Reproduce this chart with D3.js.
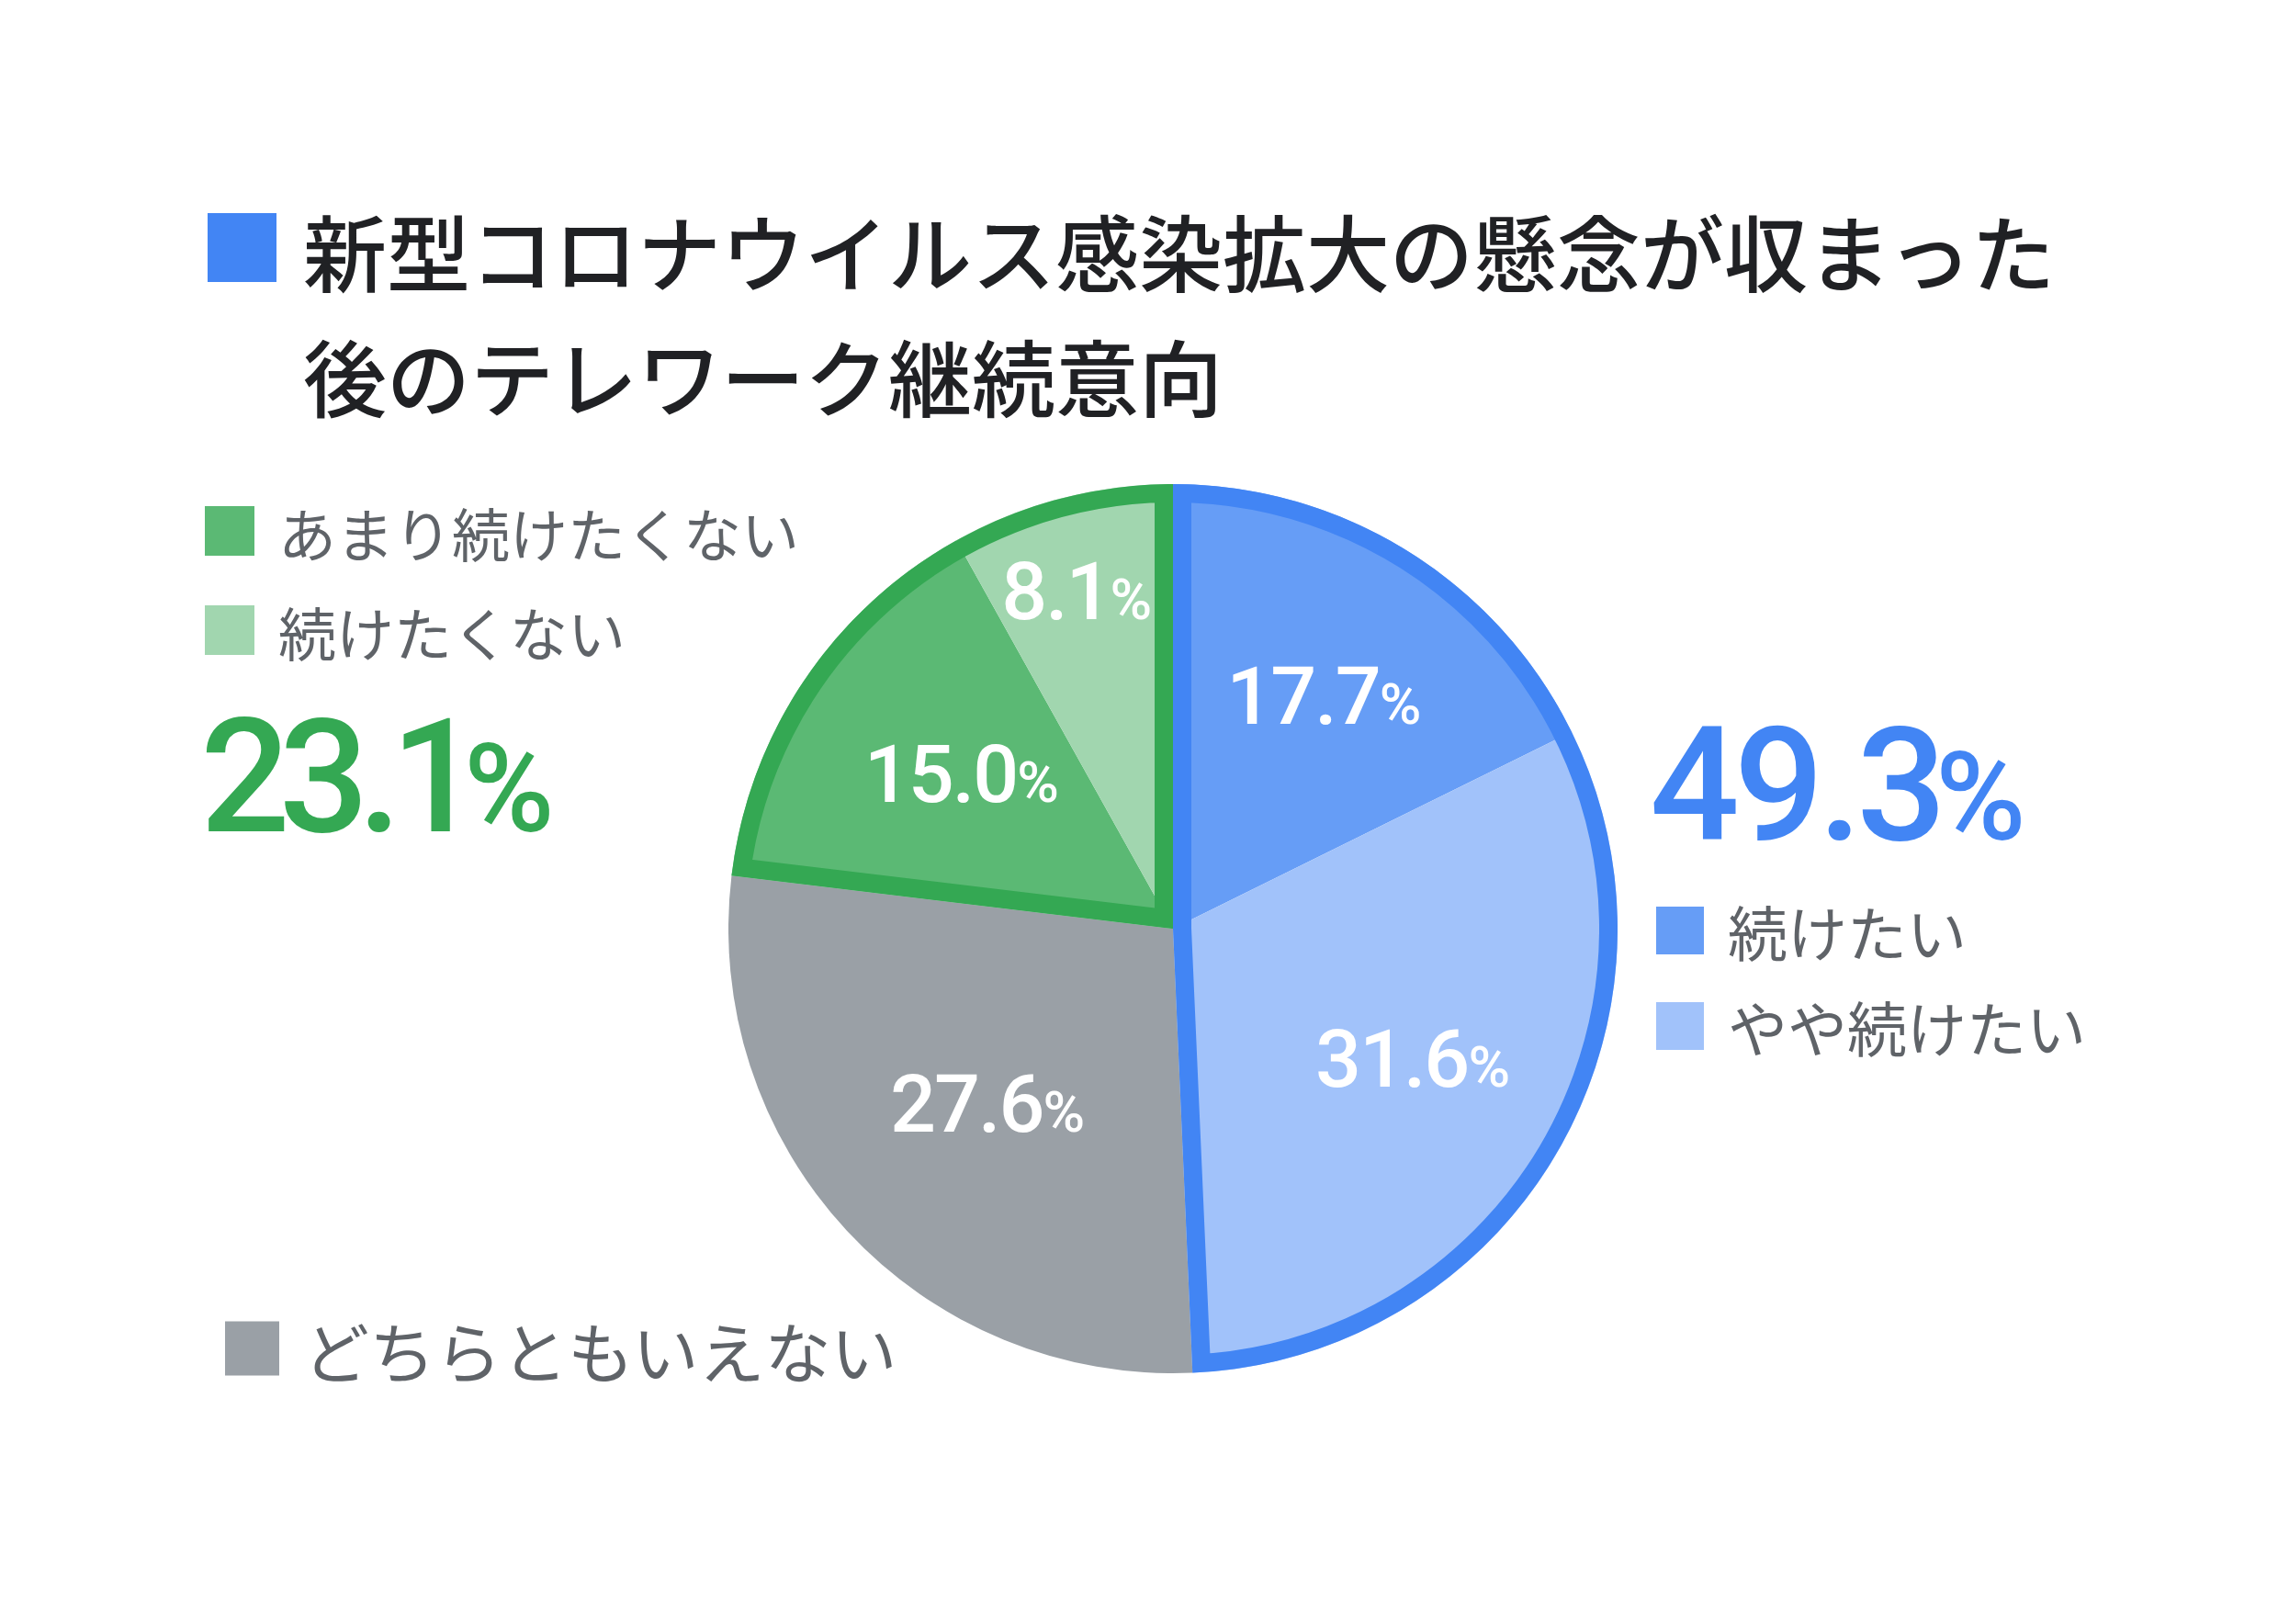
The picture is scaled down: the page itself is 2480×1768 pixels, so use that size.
<!DOCTYPE html>
<html>
<head>
<meta charset="utf-8">
<script src="https://cdn.jsdelivr.net/npm/d3@7"></script>
<style>
  html, body { margin: 0; padding: 0; background: #fff; }
</style>
</head>
<body>
<div id="chart"></div>
<script>
// data
var categories = ["続けたい", "やや続けたい", "どちらともいえない", "あまり続けたくない", "続けたくない"];
var values = [17.7, 31.6, 27.6, 15.0, 8.1];
var groupOf = [0, 0, 1, 2, 2];
var titleLines = ["新型コロナウイルス感染拡大の懸念が収まった", "後のテレワーク継続意向"];

var sliceColors = ["#669DF6", "#A1C2FA", "#9AA0A6", "#5BB974", "#A1D6AF"];
var groupBorder = ["#4285F4", null, "#34A853"];

var width = 2480, height = 1768;
var cx = 1277, cy = 1011, R = 484;
var jp = "'Noto Sans CJK JP', 'Noto Sans', sans-serif";
var num = "Roboto, 'Noto Sans', sans-serif";
var textGray = "#5F6368";

var svg = d3.select("#chart")
    .append("svg")
    .attr("width", width)
    .attr("height", height);

var data = categories.map(function(c, i) {
    return { name: c, value: values[i], group: groupOf[i], color: sliceColors[i] };
});

// title
svg.append("rect")
    .attr("x", 226).attr("y", 232)
    .attr("width", 75).attr("height", 75)
    .attr("fill", "#4285F4");

svg.selectAll("text.title")
    .data(titleLines)
    .enter()
    .append("text")
    .attr("class", "title")
    .attr("x", 330)
    .attr("y", function(d, i) { return 271 + i * 136; })
    .attr("dominant-baseline", "central")
    .attr("font-family", jp)
    .attr("font-weight", 500)
    .attr("font-size", 91)
    .attr("fill", "#202124")
    .text(function(d) { return d; });

// pie
var pie = d3.pie().sort(null).value(function(d) { return d.value; });
var arcs = pie(data);
var arc = d3.arc().innerRadius(0).outerRadius(R);

var g = svg.append("g")
    .attr("transform", "translate(" + cx + "," + cy + ")");

g.selectAll("path.slice")
    .data(arcs)
    .enter()
    .append("path")
    .attr("class", "slice")
    .attr("d", arc)
    .attr("fill", function(d) { return d.data.color; });

// group outlines (stroke kept inside the wedge)
var defs = svg.append("defs");
[0, 2].forEach(function(gi) {
    var members = arcs.filter(function(a) { return a.data.group === gi; });
    var wedge = {
        startAngle: d3.min(members, function(a) { return a.startAngle; }),
        endAngle: d3.max(members, function(a) { return a.endAngle; })
    };
    defs.append("clipPath")
        .attr("id", "clip" + gi)
        .append("path")
        .attr("d", arc(wedge));
    g.append("path")
        .attr("d", arc(wedge))
        .attr("fill", "none")
        .attr("stroke", groupBorder[gi])
        .attr("stroke-width", 40)
        .attr("stroke-linejoin", "miter")
        .attr("clip-path", "url(#clip" + gi + ")");
});

// slice labels: small slices sit further out, nudged off the border
var labelPos = function(d) {
    var small = d.data.value < 10;
    var k = small ? 0.77 : 0.6;
    var a = (d.startAngle + d.endAngle) / 2;
    return [Math.sin(a) * R * k + (small ? -12 : 10), -Math.cos(a) * R * k];
};

var labels = g.selectAll("text.lbl")
    .data(arcs)
    .enter()
    .append("text")
    .attr("class", "lbl")
    .attr("x", function(d) { return labelPos(d)[0]; })
    .attr("y", function(d) { return labelPos(d)[1] + 24; })
    .attr("text-anchor", "middle")
    .attr("font-family", num)
    .attr("font-weight", 500)
    .attr("fill", "#fff")
    .attr("letter-spacing", -2);

labels.append("tspan")
    .attr("font-size", 88)
    .text(function(d) { return d.data.value.toFixed(1); });
labels.append("tspan")
    .attr("font-size", 62)
    .text("%");

// legends
function legendItem(x, yc, size, fontSize, color, label) {
    svg.append("rect")
        .attr("x", x).attr("y", yc - size / 2)
        .attr("width", size).attr("height", size)
        .attr("fill", color);
    svg.append("text")
        .attr("x", x + size + 26)
        .attr("y", yc)
        .attr("dominant-baseline", "central")
        .attr("font-family", jp)
        .attr("font-size", fontSize)
        .attr("fill", textGray)
        .text(label);
}

function bigNumber(x, baseline, color, total, spacing) {
    var t = svg.append("text")
        .attr("x", x).attr("y", baseline)
        .attr("font-family", num)
        .attr("font-weight", 500)
        .attr("fill", color);
    t.append("tspan")
        .attr("font-size", 172)
        .attr("letter-spacing", spacing)
        .text(total.toFixed(1));
    t.append("tspan")
        .attr("dx", -6)
        .attr("font-size", 134)
        .attr("letter-spacing", 0)
        .text("%");
}

function groupTotal(gi) {
    return d3.sum(data.filter(function(d) { return d.group === gi; }), function(d) { return d.value; });
}

// green (left)
legendItem(223, 578, 54, 63, sliceColors[3], categories[3]);
legendItem(223, 686, 54, 63, sliceColors[4], categories[4]);
bigNumber(218, 905, "#34A853", groupTotal(2), -12);

// blue (right)
bigNumber(1796, 914, "#4285F4", groupTotal(0), -6);
legendItem(1803, 1013, 52, 65, sliceColors[0], categories[0]);
legendItem(1803, 1117, 52, 65, sliceColors[1], categories[1]);

// gray
legendItem(245, 1468, 59, 72, sliceColors[2], categories[2]);
</script>
</body>
</html>
